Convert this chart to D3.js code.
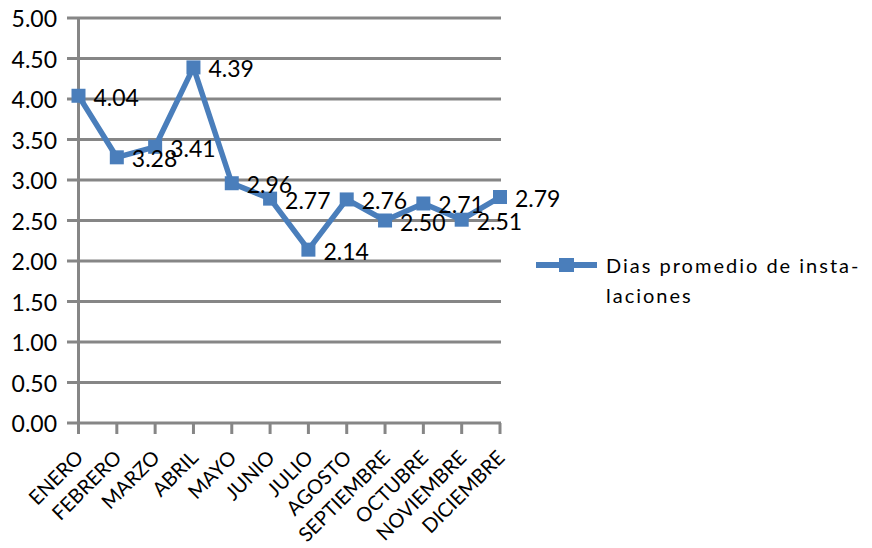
<!DOCTYPE html>
<html><head><meta charset="utf-8">
<script src="https://cdn.jsdelivr.net/npm/d3@7"></script>
<style>body{margin:0;background:#fff}svg{display:block}text{font-family:Lato,"Open Sans",sans-serif;fill:#000}</style>
</head><body>
<svg id="c" width="872" height="548"></svg>
<script>
const months = ["ENERO","FEBRERO","MARZO","ABRIL","MAYO","JUNIO","JULIO","AGOSTO","SEPTIEMBRE","OCTUBRE","NOVIEMBRE","DICIEMBRE"];
const values = [4.04,3.28,3.41,4.39,2.96,2.77,2.14,2.76,2.50,2.71,2.51,2.79];
const yTicks = [0,0.5,1,1.5,2,2.5,3,3.5,4,4.5,5];
const seriesName = ["Dias promedio de insta-","laciones"];

const svg = d3.select("#c");
const blue = "#4a7ebb", grid = "#868686";
const x = d3.scalePoint().domain(months).range([78.5, 500]);
const y = d3.scaleLinear().domain([0,5]).range([423, 18]);

// gridlines
svg.append("g").selectAll("line").data(yTicks).join("line")
  .attr("x1", 67).attr("x2", 501).attr("y1", d=>y(d)).attr("y2", d=>y(d))
  .attr("stroke", grid).attr("stroke-width", 3);
// y axis line
svg.append("line").attr("x1", 78.5).attr("x2", 78.5).attr("y1", y(5)).attr("y2", y(0))
  .attr("stroke", grid).attr("stroke-width", 3);
// x ticks
svg.append("g").selectAll("line").data(months).join("line")
  .attr("x1", d=>x(d)).attr("x2", d=>x(d)).attr("y1", y(0)).attr("y2", y(0)+11)
  .attr("stroke", grid).attr("stroke-width", 3);
// y labels
svg.append("g").selectAll("text").data(yTicks).join("text")
  .attr("x", 57).attr("y", d=>y(d)+9).attr("text-anchor","end")
  .attr("font-size", 23).text(d=>d.toFixed(2));
// x labels
svg.append("g").selectAll("text").data(months).join("text")
  .attr("transform", d=>`translate(${x(d)+6},${y(0)+36}) rotate(-45)`)
  .attr("text-anchor","end").attr("font-size", 20).text(d=>d);

// line
const data = months.map((m,i)=>({m, v: values[i]}));
svg.append("path").datum(data)
  .attr("d", d3.line().x(d=>x(d.m)).y(d=>y(d.v)))
  .attr("fill","none").attr("stroke", blue).attr("stroke-width", 5.5).attr("stroke-linejoin","round");
svg.append("g").selectAll("rect").data(data).join("rect")
  .attr("x", d=>x(d.m)-7).attr("y", d=>y(d.v)-7).attr("width",14).attr("height",14).attr("fill", blue);
svg.append("g").selectAll("text").data(data).join("text")
  .attr("x", d=>x(d.m)+15).attr("y", d=>y(d.v)+10)
  .attr("font-size", 23).text(d=>d.v.toFixed(2));

// legend
svg.append("line").attr("x1",536).attr("x2",597).attr("y1",265).attr("y2",265)
  .attr("stroke", blue).attr("stroke-width",6);
svg.append("rect").attr("x",559).attr("y",258).attr("width",15).attr("height",14).attr("fill",blue);
svg.append("g").selectAll("text").data(seriesName).join("text")
  .attr("x", 606).attr("y", (d,i)=>273+i*30).attr("font-size",20).attr("letter-spacing","2px").text(d=>d);
</script>
</body></html>
